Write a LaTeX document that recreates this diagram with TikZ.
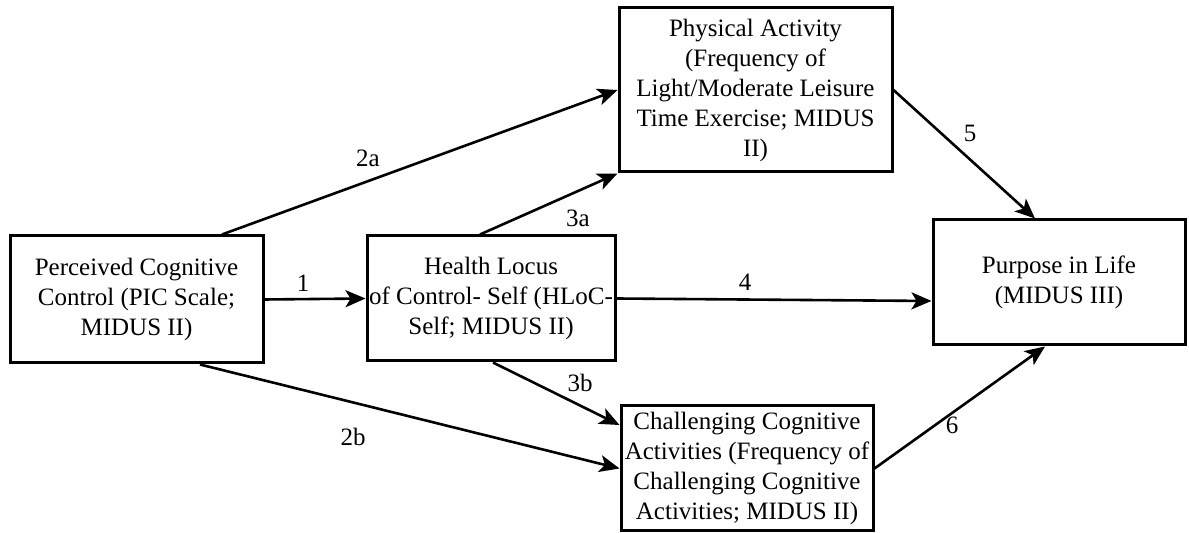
\documentclass[tikz,border=0pt]{standalone}
\usepackage{fontspec}
\setmainfont{Liberation Serif}
\usetikzlibrary{arrows.meta}

\begin{document}
\begin{tikzpicture}[x=0.5pt, y=-0.5pt,
		box/.style={draw, line width=1.5pt, align=center, inner sep=0pt,
			font=\fontsize{12.5}{15}\selectfont},
		lbl/.style={font=\fontsize{12.5}{15}\selectfont},
		path/.style={line width=1.3pt, -{Stealth[length=10pt, width=8.5pt, inset=2.5pt]}}]
	\useasboundingbox (0,0) rectangle (1189,533);
	\node[box, minimum width=126.5pt, minimum height=63.5pt] (pic) at (136.5, 299.5) {Perceived Cognitive\\Control (PIC Scale;\\MIDUS II)};
	\node[box, minimum width=124pt, minimum height=62.5pt] (hloc) at (491, 298.5) {Health Locus\\of Control- Self (HLoC-\\Self; MIDUS II)};
	\node[box, minimum width=136.5pt, minimum height=82pt] (pa) at (755.5, 90) {Physical Activity\\(Frequency of\\Light/Moderate Leisure\\Time Exercise; MIDUS\\II)};
	\node[box, minimum width=126pt, minimum height=62.5pt] (cca) at (747, 468.5) {Challenging Cognitive\\Activities (Frequency of\\Challenging Cognitive\\Activities; MIDUS II)};
	\node[box, minimum width=126pt, minimum height=62.5pt] (pil) at (1059, 282.5) {Purpose in Life\\(MIDUS III)};
	\draw[path] (pic.east) -- (hloc.west);
	\draw[path] ([xshift=42.75pt]pic.north) -- (pa.west);
	\draw[path] ([xshift=31.75pt]pic.south) -- (cca.west);
	\draw[path] ([xshift=-5.5pt]hloc.north) -- (pa.south west);
	\draw[path] ([xshift=1pt]hloc.south) -- ([yshift=21.75pt]cca.west);
	\draw[path] (hloc.east) -- ([yshift=-9.25pt]pil.west);
	\draw[path] (pa.east) -- ([xshift=-12pt]pil.north);
	\draw[path] (cca.east) -- ([xshift=-7pt]pil.south);
	% path labels
	\node[lbl] (l1) at (303, 283) {1};
	\node[lbl] (l2a) at (368, 158) {2a};
	\node[lbl] (l2b) at (353, 437) {2b};
	\node[lbl] (l3a) at (578, 218) {3a};
	\node[lbl] (l3b) at (580, 383) {3b};
	\node[lbl] (l4) at (745, 282) {4};
	\node[lbl] (l5) at (970, 133) {5};
	\node[lbl] (l6) at (952, 425) {6};
\end{tikzpicture}
\end{document}
